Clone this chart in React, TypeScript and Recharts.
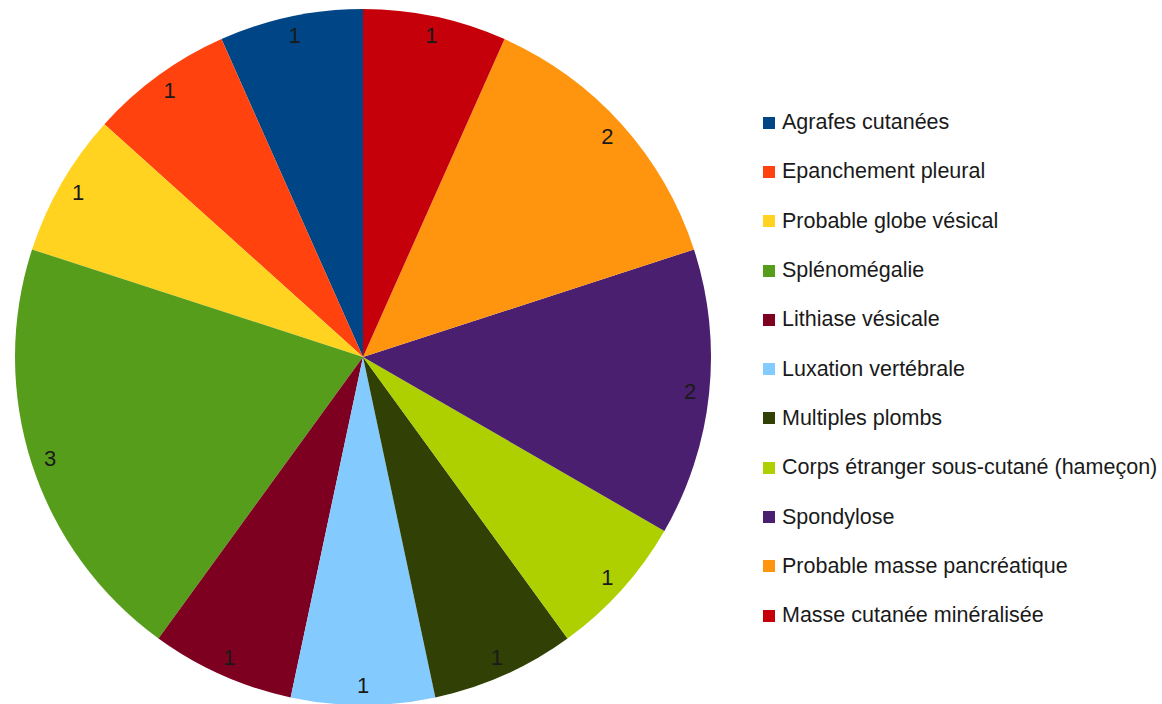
import React from 'react';
import { PieChart, Pie, Cell, Legend } from 'recharts';

const labels = [
  'Agrafes cutanées',
  'Epanchement pleural',
  'Probable globe vésical',
  'Splénomégalie',
  'Lithiase vésicale',
  'Luxation vertébrale',
  'Multiples plombs',
  'Corps étranger sous-cutané (hameçon)',
  'Spondylose',
  'Probable masse pancréatique',
  'Masse cutanée minéralisée',
];
const counts = [1, 1, 1, 3, 1, 1, 1, 1, 2, 2, 1];
const COLORS = [
  '#004586', '#ff420e', '#ffd320', '#579d1c', '#7e0021', '#83caff',
  '#314004', '#aecf00', '#4b1f6f', '#ff950e', '#c5000b',
];

const data = labels.map((name, i) => ({ name, value: counts[i] }));

const RADIAN = Math.PI / 180;
const FONT = '"Liberation Sans", Arial, sans-serif';

const renderLabel = (props: any) => {
  const { cx, cy, midAngle, outerRadius, value } = props;
  const r = outerRadius * 0.945;
  const x = cx + r * Math.cos(-midAngle * RADIAN);
  const y = cy + r * Math.sin(-midAngle * RADIAN);
  return (
    <text x={x} y={y} fill="#1a1a1a" fontSize={22} fontFamily={FONT}
      textAnchor="middle" dominantBaseline="central">
      {value}
    </text>
  );
};

// draw legend rows in data order (recharts would sort them by name)
const renderLegend = () => (
  <div style={{ fontFamily: FONT, fontSize: 21.5, color: '#1a1a1a' }}>
    {labels.map((name, i) => (
      <div key={`leg-${i}`} style={{ display: 'flex', alignItems: 'center', height: 49.3 }}>
        <span style={{ width: 12, height: 12, background: COLORS[i], marginRight: 7, display: 'inline-block', flexShrink: 0 }} />
        <span style={{ whiteSpace: 'nowrap' }}>{name}</span>
      </div>
    ))}
  </div>
);

export default function App() {
  return (
    <div style={{ position: 'absolute', left: 0, top: 0, background: '#fff' }}>
      <PieChart width={1162} height={704} margin={{ top: 0, right: 0, bottom: 0, left: 0 }}>
        <Pie
          data={data}
          dataKey="value"
          nameKey="name"
          cx={363}
          cy={357}
          outerRadius={348}
          startAngle={90}
          endAngle={450}
          stroke="none"
          labelLine={false}
          label={renderLabel}
          isAnimationActive={false}
        >
          {data.map((entry, index) => (
            <Cell key={`cell-${index}`} fill={COLORS[index]} />
          ))}
        </Pie>
        <Legend
          layout="vertical"
          content={renderLegend}
          wrapperStyle={{ left: 763, top: 98, width: 400 }}
        />
      </PieChart>
    </div>
  );
}
